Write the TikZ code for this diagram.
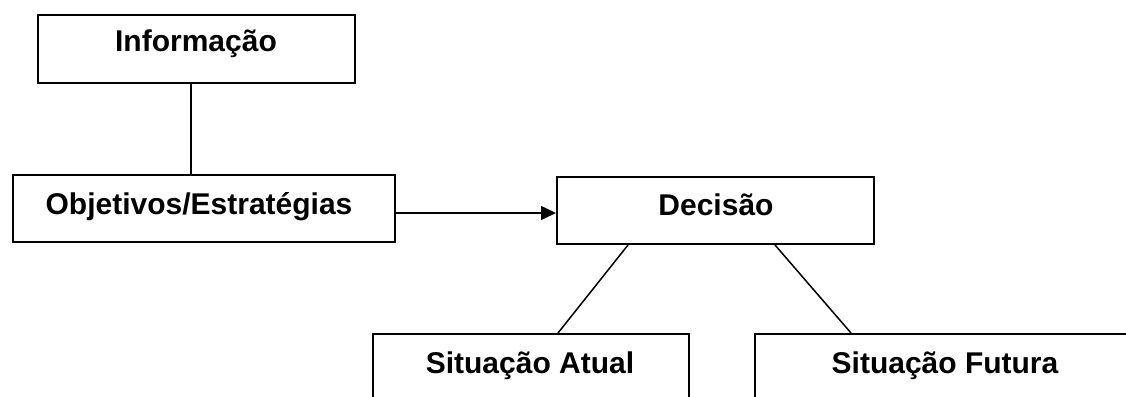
\documentclass[tikz,border=0pt]{standalone}
\usepackage{fontspec}
\setmainfont{Liberation Sans}
\usetikzlibrary{arrows.meta}
\begin{document}
\begin{tikzpicture}[x=1pt,y=-1pt,
  box/.style={draw=black,line width=2pt,rectangle,inner sep=0pt,anchor=north west,fill=white},
  lbl/.style={anchor=base,inner sep=0pt,font=\fontsize{30}{36}\selectfont\bfseries},
  conn/.style={line width=1.5pt,draw=black}]
\useasboundingbox (0,0) rectangle (1126,396);
\clip (0,0) rectangle (1126,396);
\node[box,minimum width=317pt,minimum height=68pt] (info) at (37,14) {};
\node[box,minimum width=382pt,minimum height=67pt] (obj) at (12,174) {};
\node[box,minimum width=317pt,minimum height=67pt] (dec) at (556,176) {};
\node[box,minimum width=316pt,minimum height=100pt] (atual) at (372,333) {};
\node[box,minimum width=400pt,minimum height=100pt] (fut) at (754,333) {};
\node[lbl] (infot) at (196,52) {Informação};
\node[lbl] (objt) at (199,214) {Objetivos/Estratégias};
\node[lbl] (dect) at (716,215) {Decisão};
\node[lbl] (atualt) at (530,373) {Situação Atual};
\node[lbl] (futt) at (945,373) {Situação Futura};
\draw[conn] ([xshift=-5.5pt]info.south) -- ([xshift=-5.5pt]info.south |- obj.north);
\draw[conn,-{Triangle[length=15pt,width=14pt]}] ([yshift=-4.5pt]obj.east) -- ([yshift=-4.5pt]obj.east -| dec.west);
\draw[conn] ([xshift=72pt]dec.south west) -- ([xshift=186pt]atual.north west);
\draw[conn] ([xshift=219pt]dec.south west) -- ([xshift=97pt]fut.north west);
\end{tikzpicture}
\end{document}
